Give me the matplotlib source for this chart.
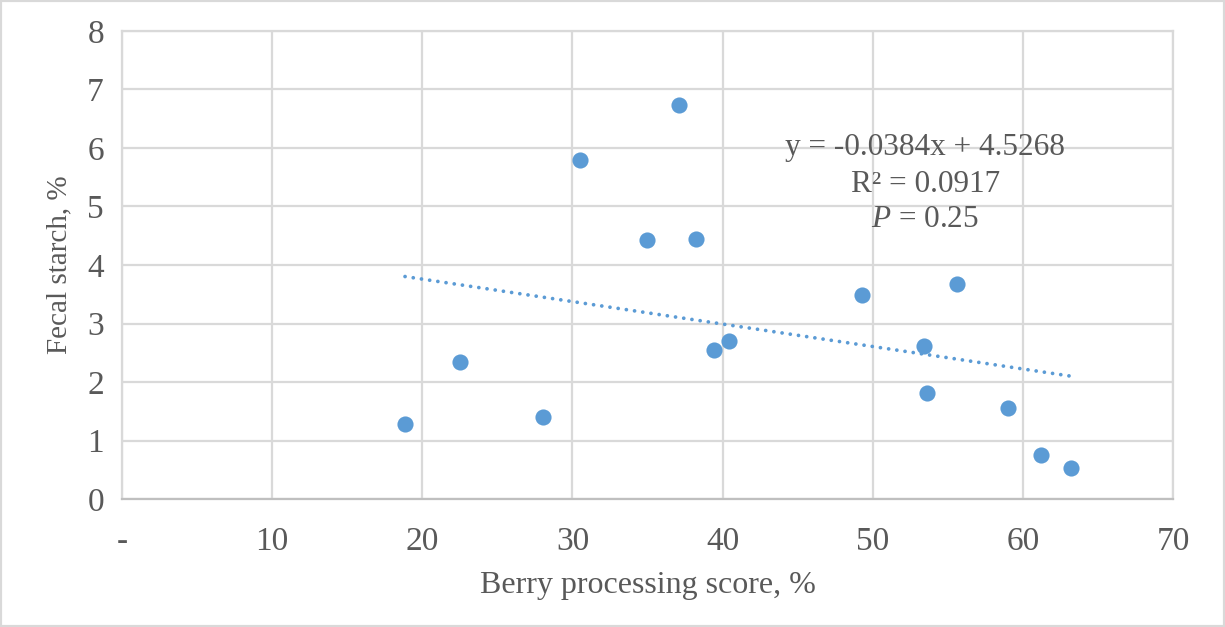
import matplotlib.pyplot as plt
import numpy as np
from matplotlib.patches import Rectangle

plt.rcParams["font.family"] = ["Liberation Serif", "DejaVu Serif"]
plt.rcParams["mathtext.fontset"] = "custom"
plt.rcParams["mathtext.it"] = "Liberation Serif:italic"
plt.rcParams["mathtext.rm"] = "Liberation Serif"

berry_score = [18.85, 22.5, 28.05, 30.5, 34.98, 37.1, 38.2, 39.4, 40.4,
               49.3, 53.4, 53.6, 55.6, 59.0, 61.2, 63.2]
fecal_starch = [1.28, 2.34, 1.40, 5.79, 4.43, 6.73, 4.44, 2.55, 2.70,
                3.49, 2.62, 1.81, 3.68, 1.56, 0.75, 0.53]
slope = -0.0384
intercept = 4.5268
r2 = 0.0917
p_value = 0.25

xticks = [0, 10, 20, 30, 40, 50, 60, 70]
xticklabels = ["-", "10", "20", "30", "40", "50", "60", "70"]
yticks = [0, 1, 2, 3, 4, 5, 6, 7, 8]

grey = "#595959"
blue = "#5b9bd5"

fig = plt.figure(figsize=(12.25, 6.27), dpi=100)
ax = fig.add_axes([0.0996, 0.2041, 0.858, 0.7465])

ax.scatter(berry_score, fecal_starch, s=135, color=blue, zorder=3, linewidths=0)

# linear trendline (Excel)
xs = np.array([min(berry_score), max(berry_score)])
ax.plot(xs, slope * xs + intercept, color=blue, lw=2.7, linestyle=(0, (0.01, 2.2)),
        dash_capstyle="round", zorder=2)

ax.set_xlim(0, 70)
ax.set_ylim(0, 8)
ax.set_xticks(xticks)
ax.set_xticklabels(xticklabels)
ax.set_yticks(yticks)
ax.tick_params(length=0, labelsize=24, labelcolor=grey)
ax.tick_params(axis="x", pad=20)
ax.tick_params(axis="y", pad=13)
ax.grid(True, color="#d9d9d9", lw=1.6)
ax.set_axisbelow(True)
for s in ax.spines.values():
    s.set_color("#d9d9d9")
    s.set_linewidth(1.6)
ax.spines["bottom"].set_color("#bfbfbf")

ax.set_xlabel("Berry processing score, %", fontsize=23, color=grey, labelpad=10)
ax.set_ylabel("Fecal starch, %", fontsize=21, color=grey, labelpad=11)

ax.text(53.5, 6.0, f"y = {slope:.4f}x + {intercept:.4f}", fontsize=22.5, color=grey,
        ha="center", va="center")
ax.text(53.5, 5.37, f"R² = {r2:.4f}", fontsize=22.5, color=grey, ha="center", va="center")
ax.text(53.5, 4.77, r"$\mathit{P}$" + f" = {p_value:.2f}", fontsize=22.5, color=grey,
        ha="center", va="center")

fig.patches.append(Rectangle((0, 0), 1, 1, transform=fig.transFigure, fill=False,
                             edgecolor="#d9d9d9", lw=3))

fig.savefig("out.png", dpi=100)
